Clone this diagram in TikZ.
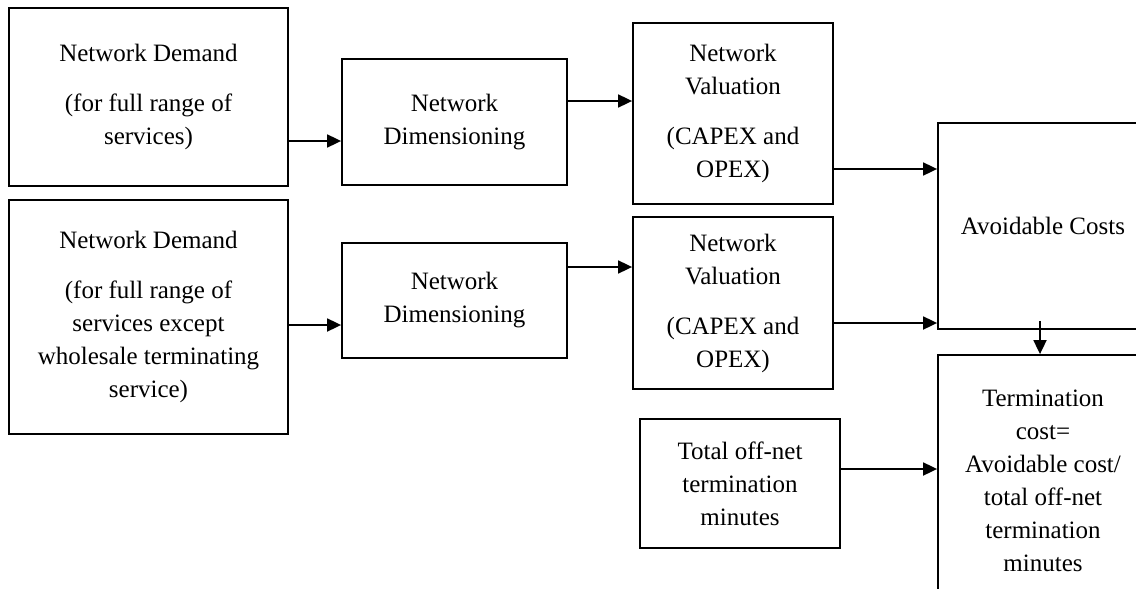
\documentclass[tikz,border=0pt]{standalone}
\usepackage{fontspec}
\setmainfont{Liberation Serif}
\usetikzlibrary{arrows.meta}
\begin{document}
\begin{tikzpicture}[x=1pt,y=-1pt,
  box/.style={draw,line width=1.8pt,rectangle,inner sep=0pt,align=center,
    font=\fontsize{25}{33}\selectfont},
  arr/.style={line width=1.8pt,-{Triangle[length=14pt,width=13pt]}}]
\useasboundingbox (0,0) rectangle (1136,589);
\clip (0,0) rectangle (1136,589);

% demand boxes
\node[box,minimum width=279pt,minimum height=178pt] (demA) at (148.5,97)
  {Network Demand\\[17pt](for full range of\\services)};
\node[box,minimum width=279pt,minimum height=234pt] (demB) at (148.5,317)
  {Network Demand\\[17pt](for full range of\\services except\\wholesale terminating\\service)};

% dimensioning boxes
\node[box,minimum width=225pt,minimum height=126pt] (dimA) at (454.5,122)
  {Network\\Dimensioning};
\node[box,minimum width=225pt,minimum height=115pt] (dimB) at (454.5,300.5)
  {Network\\Dimensioning};

% valuation boxes
\node[box,minimum width=200pt,minimum height=181pt] (valA) at (733,113.5)
  {Network\\Valuation\\[17pt](CAPEX and\\OPEX)};
\node[box,minimum width=200pt,minimum height=172pt] (valB) at (733,303)
  {Network\\Valuation\\[17pt](CAPEX and\\OPEX)};

% minutes box
\node[box,minimum width=200pt,minimum height=129pt] (mins) at (740,483.5)
  {Total off-net\\termination\\minutes};

% result boxes
\node[box,minimum width=210pt,minimum height=206pt] (avoid) at (1043,226)
  {Avoidable Costs};
\node[box,minimum width=210pt,minimum height=252pt] (term) at (1043,481)
  {Termination\\cost=\\Avoidable cost/\\total off-net\\termination\\minutes};

% connectors
\draw[arr] (demA.east |- 0,141) -- (dimA.west |- 0,141);
\draw[arr] (demB.east |- 0,325) -- (dimB.west |- 0,325);
\draw[arr] (dimA.east |- 0,101) -- (valA.west |- 0,101);
\draw[arr] (dimB.east |- 0,267) -- (valB.west |- 0,267);
\draw[arr] (valA.east |- 0,169) -- (avoid.west |- 0,169);
\draw[arr] (valB.east |- 0,323) -- (avoid.west |- 0,323);
\draw[arr] (avoid.south -| 1040,0) ++(0,-9) -- (term.north -| 1040,0);
\draw[arr] (mins.east |- 0,469) -- (term.west |- 0,469);
\end{tikzpicture}
\end{document}
